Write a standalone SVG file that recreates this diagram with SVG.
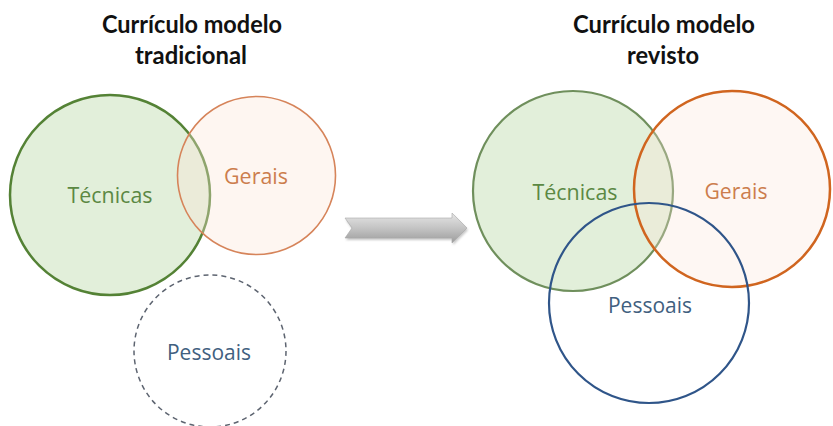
<svg xmlns="http://www.w3.org/2000/svg" width="833" height="426" viewBox="0 0 833 426">
  <defs>
    <linearGradient id="arrowGrad" x1="0" y1="0" x2="0" y2="1">
      <stop offset="0" stop-color="#e6e6e6"/>
      <stop offset="0.5" stop-color="#c4c4c4"/>
      <stop offset="1" stop-color="#9c9c9c"/>
    </linearGradient>
    <filter id="soft" x="-10%" y="-30%" width="120%" height="160%">
      <feGaussianBlur stdDeviation="1.2"/>
    </filter>
  </defs>
  <style>
    .title { font-family: "Lato", "Open Sans", "Liberation Sans", sans-serif; font-weight: bold; font-size: 24px; fill: #111111; text-anchor: middle; }
    .lbl { font-family: "Open Sans", "Lato", "Liberation Sans", sans-serif; font-size: 21px; text-anchor: middle; }
    .tec-t { fill: #5b8843; }
    .ger-t { fill: #cc7d4d; }
    .pes-t { fill: #41607f; }
  </style>
  <rect width="833" height="426" fill="#ffffff"/>

  <g id="title-left">
    <text class="title" x="192" y="33" textLength="180" lengthAdjust="spacingAndGlyphs">Currículo modelo</text>
    <text class="title" x="191" y="64" textLength="112" lengthAdjust="spacingAndGlyphs">tradicional</text>
  </g>
  <g id="title-right">
    <text class="title" x="664" y="33" textLength="182" lengthAdjust="spacingAndGlyphs">Currículo modelo</text>
    <text class="title" x="663" y="64" textLength="72" lengthAdjust="spacingAndGlyphs">revisto</text>
  </g>

  <!-- Left: traditional model -->
  <g id="left-tecnicas">
    <circle cx="110" cy="195" r="100" fill="#e2efda" stroke="#548235" stroke-width="2.5"/>
    <text class="lbl tec-t" x="110" y="203" textLength="85" lengthAdjust="spacingAndGlyphs">Técnicas</text>
  </g>
  <g id="left-gerais">
    <circle cx="256.5" cy="175.5" r="79" fill="#fbe5d6" fill-opacity="0.35" stroke="#d6845a" stroke-width="1.6"/>
    <text class="lbl ger-t" x="256" y="184" textLength="64" lengthAdjust="spacingAndGlyphs">Gerais</text>
  </g>
  <g id="left-pessoais">
    <circle cx="210" cy="351" r="76" fill="none" stroke="#5d6470" stroke-width="1.5" stroke-dasharray="5,4"/>
    <text class="lbl pes-t" x="209" y="360" textLength="84" lengthAdjust="spacingAndGlyphs">Pessoais</text>
  </g>

  <!-- Connector: transition arrow -->
  <g id="connectors">
    <path d="M346,220 L453,220 L453,215 L468,230 L453,245 L453,240 L346,240 L353,230 Z" fill="#808080" opacity="0.45" filter="url(#soft)"/>
    <path d="M345,218 L452,218 L452,213 L467,228 L452,243 L452,238 L345,238 L352,228 Z" fill="url(#arrowGrad)" stroke="#a8a8a8" stroke-width="0.6"/>
  </g>

  <!-- Right: revised model -->
  <g id="right-tecnicas">
    <circle cx="573" cy="191" r="100" fill="#e2efda" stroke="#6f8f5c" stroke-width="2.2"/>
  </g>
  <g id="right-gerais">
    <circle cx="732" cy="189" r="98" fill="#fbe5d6" fill-opacity="0.3" stroke="#d0651f" stroke-width="2.5"/>
  </g>
  <g id="right-pessoais">
    <circle cx="649" cy="303" r="100" fill="none" stroke="#2f5589" stroke-width="2.2"/>
  </g>
  <g id="right-labels">
    <text class="lbl tec-t" x="575" y="200" textLength="85" lengthAdjust="spacingAndGlyphs">Técnicas</text>
    <text class="lbl ger-t" x="736" y="199" textLength="63" lengthAdjust="spacingAndGlyphs">Gerais</text>
    <text class="lbl pes-t" x="650" y="313" textLength="84" lengthAdjust="spacingAndGlyphs">Pessoais</text>
  </g>
</svg>
